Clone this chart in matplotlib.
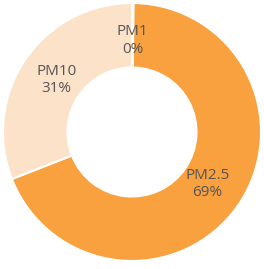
import numpy as np
import matplotlib
matplotlib.use("Agg")
import matplotlib.pyplot as plt

# share of each particle size (PM1 is a sliver that rounds to 0%)
categories = ["PM1", "PM2.5", "PM10"]
values = [0.2, 69.0, 31.0]
colors = ["#FDE2CA", "#F9A03F", "#FDE2CA"]

fig = plt.figure(figsize=(2.64, 2.69), dpi=100)
ax = fig.add_axes([3 / 264, 8 / 269, 258 / 264, 258 / 269])

wedges, _ = ax.pie(values, colors=colors, startangle=90, counterclock=False,
                   radius=1.0,
                   wedgeprops=dict(width=0.5, edgecolor="white", linewidth=1.5))
ax.set_xlim(-1, 1)
ax.set_ylim(-1, 1)
ax.set_aspect("equal")
ax.axis("off")

total = sum(values)
for w, name, v in zip(wedges, categories, values):
    mid = np.deg2rad((w.theta1 + w.theta2) / 2)
    r = 0.71
    ax.text(r * np.cos(mid), r * np.sin(mid), f"{name}\n{v / total * 100:.0f}%",
            ha="center", va="center", fontsize=11, color="#555555",
            family="Open Sans", linespacing=1.2)

fig.savefig("out.png", dpi=100)
